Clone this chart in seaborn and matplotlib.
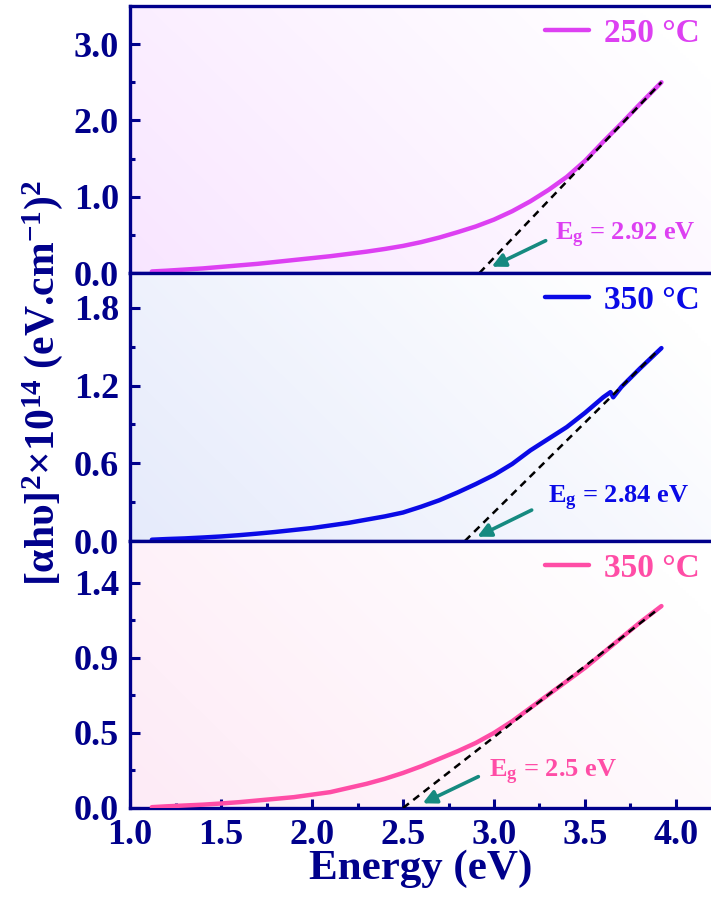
import numpy as np
import pandas as pd
import matplotlib
matplotlib.use("Agg")
import matplotlib.pyplot as plt
import seaborn as sns

# ---------------- data ----------------
energy_250 = [1.12, 1.2, 1.3, 1.4, 1.5, 1.6, 1.7, 1.8, 1.9, 2.0, 2.1, 2.2, 2.3, 2.4, 2.5,
              2.6, 2.7, 2.8, 2.9, 3.0, 3.1, 3.2, 3.3, 3.4, 3.5, 3.6, 3.7, 3.8, 3.92]
ahv_250 = [0.02, 0.03, 0.045, 0.06, 0.08, 0.10, 0.12, 0.145, 0.17, 0.195, 0.22, 0.25, 0.28,
           0.315, 0.355, 0.405, 0.465, 0.535, 0.61, 0.70, 0.81, 0.94, 1.09, 1.26, 1.47,
           1.72, 1.96, 2.21, 2.50]

energy_350b = [1.12, 1.2, 1.3, 1.4, 1.5, 1.6, 1.7, 1.8, 1.9, 2.0, 2.1, 2.2, 2.3, 2.4, 2.5,
               2.6, 2.7, 2.8, 2.9, 3.0, 3.1, 3.2, 3.3, 3.4, 3.5, 3.6, 3.64, 3.655, 3.7, 3.8, 3.92]
ahv_350b = [0.01, 0.015, 0.02, 0.027, 0.035, 0.045, 0.057, 0.07, 0.085, 0.10, 0.12, 0.14,
            0.165, 0.19, 0.22, 0.265, 0.315, 0.375, 0.44, 0.51, 0.595, 0.70, 0.79, 0.88,
            0.99, 1.11, 1.15, 1.11, 1.19, 1.33, 1.49]

energy_350p = [1.12, 1.2, 1.3, 1.4, 1.5, 1.6, 1.7, 1.8, 1.9, 2.0, 2.1, 2.2, 2.3, 2.4, 2.5,
               2.6, 2.7, 2.8, 2.9, 3.0, 3.1, 3.2, 3.3, 3.4, 3.5, 3.6, 3.7, 3.8, 3.92]
ahv_350p = [0.005, 0.01, 0.015, 0.02, 0.027, 0.035, 0.045, 0.055, 0.065, 0.08, 0.095, 0.12,
            0.145, 0.175, 0.21, 0.25, 0.295, 0.34, 0.39, 0.45, 0.52, 0.60, 0.68, 0.76, 0.84,
            0.93, 1.02, 1.11, 1.21]

labels = ["250 °C", "350 °C", "350 °C"]
eg_values = [2.92, 2.84, 2.5]
eg_texts = ["2.92", "2.84", "2.5"]
fit_end_x = [3.92, 3.90, 3.90]
fit_end_y = [2.50, 1.47, 1.19]

y_limits = [(0, 3.5), (0, 2.07), (0, 1.6)]
y_major = [[0.0, 1.0, 2.0, 3.0], [0.0, 0.6, 1.2, 1.8], [0.0, 0.45, 0.9, 1.35]]
y_minor = [[0.5, 1.5, 2.5], [0.3, 0.9, 1.5], [0.225, 0.675, 1.125]]
y_ticklabels = [["0.0", "1.0", "2.0", "3.0"], ["0.0", "0.6", "1.2", "1.8"], ["0.0", "0.5", "0.9", "1.4"]]
x_major = [1.0, 1.5, 2.0, 2.5, 3.0, 3.5, 4.0]

text_pos = [(3.335, 0.43), (3.297, 0.293), (2.973, 0.184)]
arrow_tail = [(3.284, 0.424), (3.207, 0.239), (2.914, 0.188)]
arrow_head = [(2.987, 0.083), (2.908, 0.033), (2.608, 0.028)]

# ---------------- style ----------------
sns.set_theme(style="white")
plt.rcParams["font.family"] = ["Liberation Serif", "DejaVu Serif"]
plt.rcParams["font.weight"] = "bold"
plt.rcParams["mathtext.fontset"] = "custom"
plt.rcParams["mathtext.rm"] = "Liberation Serif:bold"
plt.rcParams["mathtext.bf"] = "Liberation Serif:bold"
plt.rcParams["mathtext.it"] = "Liberation Serif:bold:italic"

navy = "#00008B"
line_colors = ["#DD40F2", "#0A0AE6", "#FF4DA6"]
bg_colors = [(0.975, 0.90, 1.0), (0.90, 0.92, 0.985), (0.995, 0.92, 0.965)]
teal = "#168A80"

series = [(energy_250, ahv_250), (energy_350b, ahv_350b), (energy_350p, ahv_350p)]

fig = plt.figure(figsize=(7.11, 9.01), dpi=100)
W, H = 711, 901
left_px, right_px = 130, 711
tops = [6, 273, 541]
bottoms = [273, 541, 808]
xlim = (1.0, 1.0 + (right_px - left_px) / 182.0)

for i in range(3):
    ax = fig.add_axes([left_px / W, 1 - bottoms[i] / H, (right_px - left_px) / W,
                       (bottoms[i] - tops[i]) / H])
    ax.set_xlim(*xlim)
    ax.set_ylim(*y_limits[i])

    # background gradient
    nx, ny = 200, 100
    gx = np.linspace(0, 1, nx)[None, :]
    gy = np.linspace(0, 1, ny)[:, None]
    a = np.clip(1.0 - 0.75 * gx - 0.35 * gy, 0, 1)
    img = np.ones((ny, nx, 3))
    for c in range(3):
        img[..., c] = 1 - a * (1 - bg_colors[i][c])
    ax.imshow(img, extent=[xlim[0], xlim[1], y_limits[i][0], y_limits[i][1]],
              origin="lower", aspect="auto", zorder=0, interpolation="bilinear")

    ex, ey = series[i]
    df = pd.DataFrame({"Energy": ex, "val": ey})
    sns.lineplot(data=df, x="Energy", y="val", ax=ax, color=line_colors[i], lw=3.2,
                 sort=False, label=labels[i], zorder=3, estimator=None)
    fit = pd.DataFrame({"Energy": [eg_values[i], fit_end_x[i]], "val": [0.0, fit_end_y[i]]})
    sns.lineplot(data=fit, x="Energy", y="val", ax=ax, color="black", lw=1.8,
                 linestyle=(0, (3.0, 2.2)), zorder=4, legend=False, estimator=None)

    ax.text(text_pos[i][0], text_pos[i][1],
            r"E$_{\mathbf{g}}$ = " + eg_texts[i] + " eV",
            color=line_colors[i], fontsize=19, fontweight="bold", va="baseline", ha="left",
            zorder=5)
    ax.annotate("", xy=arrow_head[i], xytext=arrow_tail[i],
                arrowprops=dict(arrowstyle="-|>", color=teal, lw=2.6, mutation_scale=20,
                                shrinkA=0, shrinkB=0), zorder=5)

    leg = ax.legend(loc="upper right", frameon=False, handlelength=1.3,
                    handletextpad=0.45, borderaxespad=0.1, borderpad=0.25,
                    labelcolor="linecolor", prop={"family": "Liberation Serif",
                                                  "weight": "bold", "size": 24})
    for ln in leg.get_lines():
        ln.set_linewidth(3.2)

    ax.set_yticks(y_major[i])
    ax.set_yticklabels(y_ticklabels[i])
    ax.set_yticks(y_minor[i], minor=True)
    ax.tick_params(axis="y", which="major", direction="in", length=7, width=2.2,
                   colors=navy, labelsize=26, pad=8, left=True)
    ax.tick_params(axis="y", which="minor", direction="in", length=3.5, width=2.2,
                   colors=navy, left=True)
    for lab in ax.get_yticklabels():
        lab.set_fontweight("bold")

    ax.set_xticks(x_major)
    ax.set_xticks(np.arange(1.25, 4.2, 0.5), minor=True)
    if i < 2:
        ax.tick_params(axis="x", which="both", bottom=False, labelbottom=False)
        ax.set_xlabel("")
    else:
        ax.set_xticklabels([f"{v:.1f}" for v in x_major])
        ax.tick_params(axis="x", which="major", direction="in", length=6.5, width=2.2,
                       colors=navy, labelsize=26, pad=8, bottom=True)
        ax.tick_params(axis="x", which="minor", direction="in", length=3.5, width=2.2,
                       colors=navy, bottom=True)
        for lab in ax.get_xticklabels():
            lab.set_fontweight("bold")
        ax.set_xlabel("Energy (eV)", fontsize=31, fontweight="bold", color=navy, labelpad=-2)
    ax.set_ylabel("")

    for side in ["left", "top", "bottom"]:
        ax.spines[side].set_color(navy)
        ax.spines[side].set_linewidth(2.4)
        ax.spines[side].set_visible(True)
    ax.spines["right"].set_visible(False)

fig.text(43 / W, 1 - 383 / H,
         r"[αhυ]$^{\mathbf{2}}$×10$^{\mathbf{14}}$ (eV.cm$^{\mathbf{-1}}$)$^{\mathbf{2}}$",
         rotation=90, ha="center", va="center", fontsize=30, fontweight="bold", color=navy)

fig.savefig("out.png", dpi=100)
